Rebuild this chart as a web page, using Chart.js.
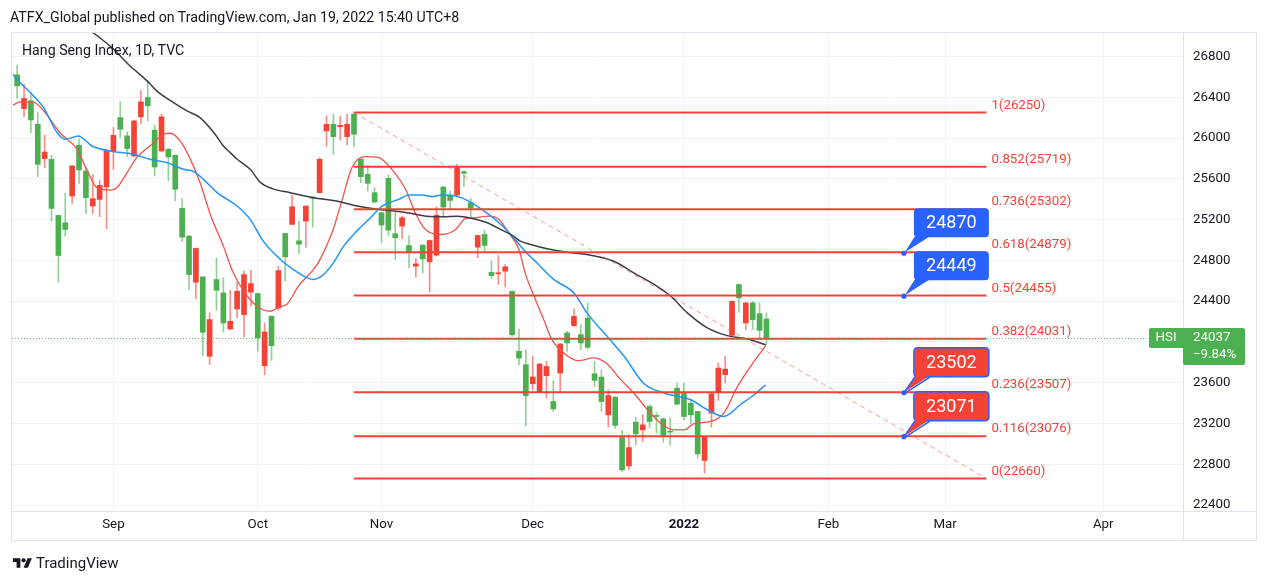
<!DOCTYPE html>
<html><head><meta charset="utf-8">
<script src="https://cdn.jsdelivr.net/npm/chart.js@4.4.1/dist/chart.umd.min.js"></script>
<style>
html,body{margin:0;padding:0;background:#fff;}
#wrap{position:relative;width:1269px;height:583px;overflow:hidden;font-family:Roboto,"Noto Sans",sans-serif;color:#131722;}
#c{position:absolute;left:0;top:0;}
#hdr{position:absolute;left:10px;top:9px;font-size:14.2px;line-height:16px;white-space:nowrap;}
#ttl{position:absolute;left:22px;top:42px;font-size:14.2px;line-height:16px;white-space:nowrap;}
#ftr{position:absolute;left:12px;top:554px;font-size:15px;line-height:18px;white-space:nowrap;display:flex;align-items:center;}
#ftr svg{margin-right:3px;}
</style></head><body>
<div id="wrap">
<canvas id="c" width="1269" height="583"></canvas>
<div id="hdr">ATFX_Global published on TradingView.com, Jan 19, 2022 15:40 UTC+8</div>
<div id="ttl">Hang Seng Index, 1D, TVC</div>
<div id="ftr"><svg width="21" height="15" viewBox="0 0 36 28"><path fill="#131722" d="M14 22H7V11H0V4h14v18zM28 22h-8l7.5-18h8L28 22z"/><circle fill="#131722" cx="20" cy="8" r="4"/></svg><span>TradingView</span></div>
</div>
<script>
// ---- data (bar index 0 = 1 Sep 2021, trading days) ----
const firstIdx = -14;
const openP  = [26620,26289,26365,26135,25798,25791,25241,25169,25431,25929,25677,25333,25398,25520,
  25873,26201,26021,25824,26208,26398,26077,25873,25890,25831,25310,25038,24586,24638,23859,24612,24481,24127,24324,24268,24488,
  24475,23767,24252,24334,25064,25153,24992,25185,25421,25464,26070,26135,26112,26014,26234,25791,25644,25464,
  25267,25605,25061,25136,24946,24743,24949,24786,24851,25519,25431,25441,25670,25365,24930,25054,24684,24668,24694,24497,23908,23777,
  23590,23508,23669,23416,23695,24088,24160,24072,24235,23688,23656,23285,23459,23072,22784,23213,23138,23367,23279,23246,23125,23547,
  23505,23400,23318,22837,23302,23505,23679,24065,24563,24186,24383,24278,24226];
const highP  = [26715,26528,26447,26250,26027,25831,25245,25457,25730,25988,25710,25644,25588,25885,
  26103,26355,26060,26175,26463,26561,26126,26234,25895,25835,25405,25045,24920,24640,24285,24825,24629,24507,24586,24694,24704,
  24480,24186,24255,24743,25068,25438,25185,25336,25425,25808,26217,26234,26217,26234,26250,25795,25732,25513,
  25274,25637,25274,25234,25044,24818,24955,25000,25326,25525,25480,25742,25680,25408,25048,25097,24792,24848,24760,24500,24127,23924,
  23859,23790,23810,23619,23985,24104,24324,24170,24383,23810,23728,23531,23465,23131,23089,23259,23285,23384,23308,23253,23253,23597,
  23597,23433,23320,23070,23495,23793,23859,24402,24568,24388,24399,24383,24285];
const lowP   = [26388,26211,26053,25621,25710,25185,24586,25038,25359,25556,25261,25261,25228,25110,
  25693,26004,25818,25818,26142,26168,25628,25865,25579,25382,24989,24514,24422,23865,23777,24311,24095,24120,24235,24049,24350,
  23908,23678,23819,24311,24596,25150,24868,24930,25126,25460,25916,25840,25981,25932,25913,25562,25480,25365,
  24972,25044,24809,25012,24727,24638,24678,24488,24841,25218,25300,25425,25523,25218,24825,24881,24618,24563,24540,24055,23777,23177,
  23531,23505,23449,23318,23505,23908,24155,23924,23931,23564,23318,23164,23154,22728,22745,22990,23023,23154,23105,23013,22990,23384,
  23236,23197,22860,22712,23164,23426,23597,24062,24291,24121,24121,24022,23973];
const closeP = [26512,26388,26178,25742,25863,25310,24848,25103,25726,25687,25415,25405,25536,25880,
  26027,26086,25896,26168,26355,26316,25716,26208,25815,25497,25028,24661,24917,24095,24219,24507,24186,24203,24497,24661,24573,
  24039,24098,23963,24700,24835,25326,24959,25333,25408,25791,26135,26014,26125,26135,26037,25621,25556,25372,
  25146,25097,25022,25218,24874,24766,24815,24995,25244,25323,25388,25709,25654,25316,25044,24946,24651,24678,24737,24071,23842,23472,
  23656,23783,23760,23344,23980,23990,24252,23990,23947,23623,23416,23475,23181,22745,22964,23099,23187,23220,23269,23082,23115,23390,
  23269,23285,22902,23066,23492,23744,23734,24399,24432,24383,24219,24114,24037];

// moving averages: [bar index], [value]
const maLongIdx = [-3.6,0,2.4,4.9,6.3,8.7,10.7,12.6,14.6,16,17,18,19.9,21.4,23.1,25.7,29.1,32.5,35.4,38.8,42.7,45.6,48,50,52.4,54.4,56.3,58.2,59.2,60.7,63.1,66,68.9,72.8,75.7,79.1,81.1,83.5,86.4,89.3,92.2,94.9];
const maLongVal = [27069,26873,26709,26561,26463,26349,26266,26201,26054,25922,25857,25792,25693,25563,25504,25464,25415,25382,25333,25300,25268,25234,25228,25234,25209,25169,25104,25038,24989,24956,24914,24880,24858,24792,24678,24546,24448,24285,24138,24062,24029,23973];
const maMidIdx = [-14.6,-13.6,-12.1,-10.2,-8.2,-7.0,-5.1,-3.1,-0.5,2.9,5.3,7.8,10.2,11.6,13.1,15.1,18.0,19.9,21.8,24.3,26.2,28.2,29.1,30.3,32.0,33.5,35.4,37.4,39.1,41.5,43.0,44.9,46.4,47.8,49.8,51.7,53.6,56.1,58.0,59.9,61.6,64.1,67.0,68.9,71.8,74.3,77.2,80.1,84.0,86.4,88.8,91.2,93.2,94.9];
const maMidVal = [26622,26545,26447,26303,26054,25988,26021,25922,25873,25841,25792,25759,25693,25674,25595,25464,25333,25202,24989,24809,24710,24629,24612,24645,24776,24940,25087,25219,25333,25398,25441,25441,25425,25441,25431,25382,25300,25169,25038,24890,24776,24612,24481,24285,24055,23859,23590,23499,23433,23335,23269,23384,23482,23580];
const maShortIdx = [-14.6,-13.6,-11.6,-10.2,-7.8,-5.3,-3.9,-2.4,-0.5,0.5,2.0,3.4,5.3,7.3,8.3,9.7,11.2,12.6,14.1,16.0,17.3,18.9,20.9,22.8,24.3,25.2,26.9,29.1,29.8,31.8,33.3,34.7,36.6,38.6,40.5,42.5,43.9,45.4,47.8,49.8,51.2,52.7,54.6,56.1,57.5,59.0,59.9,61.2,62.6,63.8,65.5,67.7,69.8,71.8,73.8,75.8,77.7,79.6,81.5,83.1,84.4,86.9,88.8,90.8,93.2,94.9];
const maShortVal = [26322,26355,26349,26273,26054,25890,25693,25513,25490,25513,25661,25808,25922,26037,26047,25972,25792,25563,25251,24940,24701,24504,24350,24301,24350,24367,24546,24710,24776,25071,25398,25710,25818,25808,25693,25497,25268,25103,25054,25103,25209,25218,25234,25202,25071,24907,24678,24448,24219,24023,23892,23816,23843,23787,23630,23492,23335,23203,23138,23138,23197,23220,23302,23564,23809,23964];

// Fibonacci retracement
const fibRatios = ['1','0.852','0.736','0.618','0.5','0.382','0.236','0.116','0'];
const fibValues = [26250,25719,25302,24879,24455,24031,23507,23076,22660];
const fibSpan = [35, 127];       // bar index where the drawing starts / ends
const trendIdx = [35, 127];
const trendVal = [26250, 22660];

// callouts
const calloutIdx = 115;
const calloutVals = [24870, 24449, 23502, 23071];
const calloutKinds = ['blue','blue','red','red'];

// axes
const xTickIdx = [0,21,39,61,83,104,121,144];
const xTickLabels = ['Sep','Oct','Nov','Dec','2022','Feb','Mar','Apr'];
const yTickVals = [22400,22800,23200,23600,24000,24400,24800,25200,25600,26000,26400,26800];
const lastClose = 24037;
const lastChange = '\u22129.84%';

// ---- styles ----
const FONT = 'Roboto, "Noto Sans", sans-serif';
const UP = '#f44336', DOWN = '#4caf50';
const UPW = 'rgba(244,67,54,0.6)', DOWNW = 'rgba(76,175,80,0.6)';
const FIB = '#f44336';
const BLUEC = '#2962ff';

const idxs = openP.map((_, k) => firstIdx + k);
const up = openP.map((o, k) => closeP[k] >= o);

const datasets = [];
fibValues.forEach((v, k) => {
  datasets.push({type:'line', label:'fib'+fibRatios[k], data:[{x:fibSpan[0], y:v},{x:fibSpan[1], y:v}],
    borderColor:FIB, borderWidth:2, pointRadius:0, order:0});
});
datasets.push({type:'line', label:'trend', data: trendIdx.map((x,k)=>({x, y:trendVal[k]})),
  borderColor:'rgba(244,67,54,0.55)', borderWidth:1, borderDash:[5,4], pointRadius:0, order:0});
datasets.push({type:'line', label:'MA long', data: maLongIdx.map((x,k)=>({x, y:maLongVal[k]})),
  borderColor:'#3b3e48', borderWidth:1.5, pointRadius:0, cubicInterpolationMode:'monotone', order:1});
datasets.push({type:'line', label:'MA mid', data: maMidIdx.map((x,k)=>({x, y:maMidVal[k]})),
  borderColor:'#2196f3', borderWidth:1.5, pointRadius:0, cubicInterpolationMode:'monotone', order:1});
datasets.push({type:'line', label:'MA short', data: maShortIdx.map((x,k)=>({x, y:maShortVal[k]})),
  borderColor:'#f0524a', borderWidth:1.3, pointRadius:0, cubicInterpolationMode:'monotone', order:1});
datasets.push({type:'bar', label:'body', data: idxs.map((x,k)=>({x, y:[openP[k], closeP[k]]})),
  backgroundColor: up.map(u => u ? UP : DOWN), barThickness:5, grouped:false, minBarLength:1, order:5});
datasets.push({type:'bar', label:'wick', data: idxs.map((x,k)=>({x, y:[lowP[k], highP[k]]})),
  backgroundColor: up.map(u => u ? UPW : DOWNW), barThickness:1, grouped:false, order:6});

function roundRect(ctx, x, y, w, h, r) {
  ctx.beginPath();
  ctx.moveTo(x + r, y); ctx.lineTo(x + w - r, y); ctx.quadraticCurveTo(x + w, y, x + w, y + r);
  ctx.lineTo(x + w, y + h - r); ctx.quadraticCurveTo(x + w, y + h, x + w - r, y + h);
  ctx.lineTo(x + r, y + h); ctx.quadraticCurveTo(x, y + h, x, y + h - r);
  ctx.lineTo(x, y + r); ctx.quadraticCurveTo(x, y, x + r, y); ctx.closePath();
}

const overlay = {
  id: 'overlay',
  beforeDraw(chart) {
    const c = chart.ctx;
    c.save(); c.fillStyle = '#fff'; c.fillRect(0, 0, chart.width, chart.height); c.restore();
  },
  afterDatasetsDraw(chart) {
    const c = chart.ctx, xs = chart.scales.x, ys = chart.scales.y, a = chart.chartArea;
    c.save();
    c.font = '13.3px ' + FONT; c.fillStyle = FIB; c.textBaseline = 'alphabetic'; c.textAlign = 'left';
    const lx = xs.getPixelForValue(fibSpan[1]) + 5;
    fibValues.forEach((v, k) => {
      c.fillText(fibRatios[k] + '(' + v + ')', lx, ys.getPixelForValue(v) - 4);
    });
    const py = Math.round(ys.getPixelForValue(lastClose)) + 0.5;
    c.strokeStyle = 'rgba(76,175,80,0.8)'; c.lineWidth = 1; c.setLineDash([1, 2]);
    c.beginPath(); c.moveTo(a.left, py); c.lineTo(a.right - 34, py); c.stroke();
    c.setLineDash([]);
    const px = xs.getPixelForValue(calloutIdx);
    calloutVals.forEach((v, k) => {
      const vy = ys.getPixelForValue(v);
      const fill = calloutKinds[k] === 'blue' ? BLUEC : '#f44336';
      const bx = px + 10, bw = 75, bh = 29, by = vy - 45;
      c.fillStyle = fill;
      roundRect(c, bx, by, bw, bh, 4); c.fill();
      c.beginPath(); c.moveTo(bx + 1, by + bh - 1); c.lineTo(bx + 16, by + bh - 1); c.lineTo(px + 1, vy - 1); c.closePath(); c.fill();
      if (calloutKinds[k] === 'red') {
        c.strokeStyle = BLUEC; c.lineWidth = 1.5;
        roundRect(c, bx, by, bw, bh, 4); c.stroke();
        c.fillStyle = fill;
        c.beginPath(); c.moveTo(bx + 2, by + bh - 2); c.lineTo(bx + 15, by + bh - 2); c.lineTo(px + 2, vy - 2); c.closePath(); c.fill();
        c.beginPath(); c.moveTo(bx + 1, by + bh + 0.5); c.lineTo(px, vy); c.moveTo(bx + 16, by + bh + 0.5); c.lineTo(px + 2, vy); c.stroke();
      }
      c.fillStyle = BLUEC; c.beginPath(); c.arc(px, vy, 2.6, 0, Math.PI * 2); c.fill();
      c.fillStyle = '#fff'; c.font = '18px ' + FONT; c.textAlign = 'center'; c.textBaseline = 'middle';
      c.fillText(String(v), bx + bw / 2, by + bh / 2 + 1);
      c.textAlign = 'left'; c.textBaseline = 'alphabetic';
    });
    c.restore();
  },
  afterDraw(chart) {
    const c = chart.ctx, ys = chart.scales.y, a = chart.chartArea;
    c.save();
    c.fillStyle = '#fff'; c.fillRect(a.right + 1, a.bottom + 1, 80, 30);
    c.strokeStyle = '#e0e3eb'; c.lineWidth = 1;
    c.strokeRect(11.5, 32.5, 1245, 508);
    c.beginPath(); c.moveTo(a.right + 0.5, 32); c.lineTo(a.right + 0.5, 541);
    c.moveTo(11, a.bottom + 0.5); c.lineTo(1257, a.bottom + 0.5); c.stroke();
    const py = Math.round(ys.getPixelForValue(lastClose));
    c.fillStyle = '#4caf50';
    roundRect(c, a.right - 34, py - 10, 36, 20, 2); c.fill();
    roundRect(c, a.right, py - 10, 62, 37, 2); c.fill();
    c.fillStyle = '#fff'; c.font = '13.3px ' + FONT; c.textBaseline = 'middle'; c.textAlign = 'center';
    c.fillText('HSI', a.right - 17, py);
    c.textAlign = 'left';
    c.fillText(String(lastClose), a.right + 10, py);
    c.fillText(lastChange, a.right + 10, py + 17);
    c.restore();
  }
};

new Chart(document.getElementById('c'), {
  type: 'bar',
  data: { datasets },
  options: {
    responsive: false, animation: false, devicePixelRatio: 1,
    layout: { padding: { left: 12, top: 32, right: 13, bottom: 43 } },
    plugins: { legend: { display: false }, tooltip: { enabled: false }, title: { display: false } },
    scales: {
      x: {
        type: 'linear', min: -14.75, max: 155.6, offset: false,
        afterBuildTicks: s => { s.ticks = xTickIdx.map(v => ({ value: v })); },
        afterFit: s => { s.height = 29; },
        grid: { color: '#f0f3fa', drawTicks: false, offset: false }, border: { display: false },
        ticks: {
          autoSkip: false, maxRotation: 0, padding: 6, color: '#131722',
          callback: (v, i) => xTickLabels[i],
          font: ctx => ({ family: FONT, size: 13.3, weight: (ctx.tick && ctx.tick.label === '2022') ? 'bold' : 'normal' })
        }
      },
      y: {
        type: 'linear', position: 'right', min: 22342, max: 27040,
        afterBuildTicks: s => { s.ticks = yTickVals.map(v => ({ value: v })); },
        afterFit: s => { s.width = 73; },
        grid: { color: '#f0f3fa', drawTicks: false, offset: false }, border: { display: false },
        ticks: { padding: 10, color: '#131722', font: { family: FONT, size: 13.3 }, callback: v => String(v) }
      }
    }
  },
  plugins: [overlay]
});
</script>
</body></html>
